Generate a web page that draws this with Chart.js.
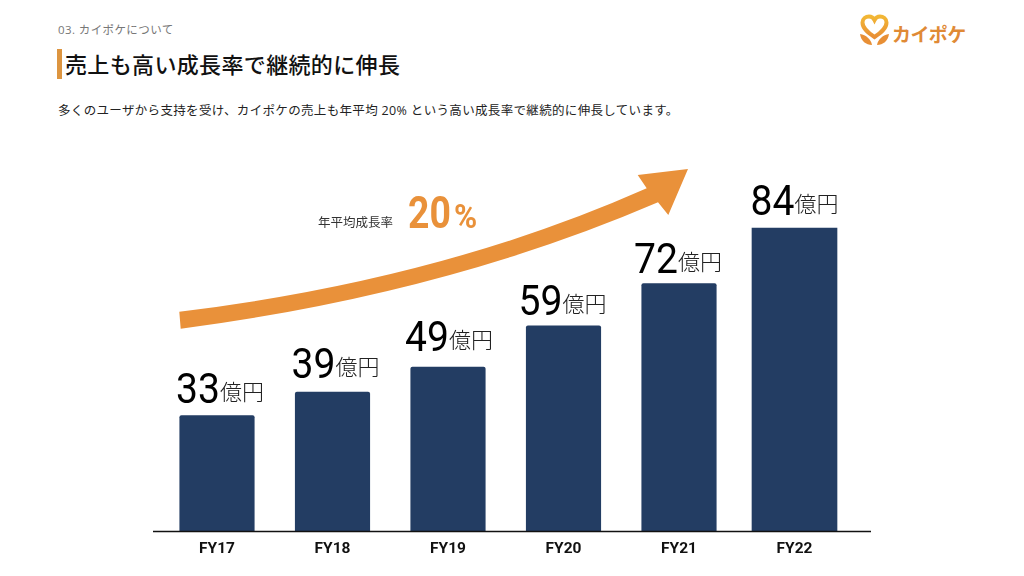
<!DOCTYPE html>
<html lang="ja">
<head>
<meta charset="utf-8">
<script src="https://cdn.jsdelivr.net/npm/chart.js@4/dist/chart.umd.min.js"></script>
<style>
html,body{margin:0;padding:0;background:#fff;width:1024px;height:576px;overflow:hidden}
body{position:relative;font-family:"Open Sans","Noto Sans CJK JP",sans-serif;color:#222}
canvas#c{position:absolute;left:0;top:0;width:1024px;height:576px}
.t{position:absolute;white-space:nowrap}
#eyebrow{left:58px;top:21px;font-size:11.5px;line-height:18px;color:#777;letter-spacing:.4px}
#bar{position:absolute;left:57px;top:49px;width:4.5px;height:30px;background:#dd9540}
#title{left:65px;top:47px;font-family:"Noto Sans CJK JP";font-weight:500;font-size:22px;line-height:32px;color:#111;letter-spacing:.35px}
#lead{left:58px;top:101px;font-size:12.5px;line-height:20px;color:#222;letter-spacing:.335px}
#cagrL{left:318px;top:213px;font-family:"Noto Sans CJK JP";font-size:12.5px;line-height:18px;color:#333}
#cagrV{left:408px;top:188px;font-family:Roboto;font-weight:700;line-height:50px;color:#e9913a}
#cagrV span{display:inline-block;transform-origin:left bottom}
#cagrV .d{font-size:44px;width:46px;transform:scaleX(.85)}
#cagrV .p{font-size:33px;transform:scaleX(.95)}
#arrow{position:absolute;left:0;top:0}
#logo{position:absolute;left:855px;top:11px}
</style>
</head>
<body>
<div id="eyebrow" class="t">03. カイポケについて</div>
<div id="bar"></div>
<div id="title" class="t">売上も高い成長率で継続的に伸長</div>
<div id="lead" class="t">多くのユーザから支持を受け、カイポケの売上も年平均 20% という高い成長率で継続的に伸長しています。</div>
<svg id="logo" width="120" height="42" viewBox="0 0 120 42">
<defs><linearGradient id="g" x1="0" y1="0" x2="0" y2="1"><stop offset="0" stop-color="#f2b735"/><stop offset="1" stop-color="#e88f35"/></linearGradient></defs>
<path d="M19.5 26 C12 21 7.5 17 7.5 11.5 C7.5 7.5 11 5.5 14 5.5 C16.5 5.5 18.5 7 19.5 9 C20.5 7 22.5 5.5 25 5.5 C28 5.5 31.5 7.5 31.5 11.5 C31.5 17 27 21 19.5 26 Z" fill="none" stroke="url(#g)" stroke-width="4"/>
<path d="M5 23 C11 24 16 28 17 34 C11 34 6 30 5 23 Z" fill="#e88f35"/>
<path d="M34 23 C28 24 23 28 22 34 C28 34 33 30 34 23 Z" fill="#e88f35"/>
<text x="37" y="31" font-family="Noto Sans CJK JP" font-weight="700" font-size="19" fill="#e08a35" letter-spacing="-.6">カイポケ</text>
</svg>
<canvas id="c" width="1024" height="576"></canvas>
<svg id="arrow" width="1024" height="576" viewBox="0 0 1024 576">
<path fill="#e9913a" d="M179.3 311.7 Q440 280 646.7 188.3 L637.7 175 L688 169 L668.3 215 L658 202.3 Q445 294 180.7 328.7 Z"/>
</svg>
<div id="cagrL" class="t">年平均成長率</div>
<div id="cagrV" class="t"><span class="d">20</span><span class="p">%</span></div>
<script>
const categories = ["FY17","FY18","FY19","FY20","FY21","FY22"];
// Figures printed above the bars (億円)
const revenue = [33,39,49,59,72,84];
// Bar lengths as drawn in the reference, which are not strictly proportional to the printed figures
const drawnHeights = [32.1,38.6,45.5,56.9,68.6,84];
const labelUnit = "億円";
// Label placement relative to each bar, in pixels
const labelGapAboveBar = [13,14,16,11,10.5,13];
const labelShiftX = [3,3,1,-1,-1,0];
const navy = "#233d63";

const baseline = {
  id:"baseline",
  afterDatasetsDraw(chart){
    const ctx = chart.ctx, y = chart.scales.y.getPixelForValue(0);
    ctx.save();
    ctx.strokeStyle = "#111"; ctx.lineWidth = 1.3;
    ctx.beginPath(); ctx.moveTo(153,y); ctx.lineTo(871,y); ctx.stroke();
    ctx.restore();
  }
};
const valueLabels = {
  id:"valueLabels",
  afterDatasetsDraw(chart){
    const ctx = chart.ctx;
    ctx.save();
    ctx.textBaseline = "alphabetic";
    chart.data.datasets.forEach((ds,di)=>{
      chart.getDatasetMeta(di).data.forEach((bar,i)=>{
        if (ds.data[i] == null) return;
        const num = String(revenue[i]);
        const sx = 0.93;
        ctx.font = '400 42px Roboto';
        const nw = ctx.measureText(num).width * sx;
        ctx.font = '300 22px "Noto Sans CJK JP"';
        const uw = ctx.measureText(labelUnit).width;
        const left = bar.x + labelShiftX[i] - (nw + uw)/2;
        const base = bar.y - labelGapAboveBar[i];
        ctx.fillStyle = "#000";
        ctx.save();
        ctx.translate(left, base); ctx.scale(sx,1);
        ctx.font = '400 42px Roboto';
        ctx.fillText(num,0,0);
        ctx.restore();
        ctx.fillStyle = "#222";
        ctx.font = '300 22px "Noto Sans CJK JP"';
        ctx.fillText(labelUnit,left+nw,base-3);
      });
    });
    ctx.restore();
  }
};
new Chart(document.getElementById("c"),{
  type:"bar",
  data:{
    labels:categories,
    datasets:[
      {data:drawnHeights.slice(0,5),barThickness:74.5,backgroundColor:navy,borderRadius:{topLeft:2,topRight:2}},
      {data:[null,null,null,null,null,drawnHeights[5]],barThickness:85,backgroundColor:navy}
    ]
  },
  plugins:[baseline,valueLabels],
  options:{
    responsive:false,
    animation:false,
    layout:{padding:{left:159.25,right:171.75,top:170.2,bottom:0}},
    plugins:{legend:{display:false},tooltip:{enabled:false},title:{display:false}},
    scales:{
      x:{
        grid:{display:false},
        border:{display:false},
        afterFit(s){s.height=44.5;},
        ticks:{color:"#111",font:{family:"Roboto",weight:"700",size:15.5},padding:0,maxRotation:0}
      },
      y:{display:false,min:0,max:100}
    },
    datasets:{bar:{grouped:false}}
  }
});
</script>
</body>
</html>
